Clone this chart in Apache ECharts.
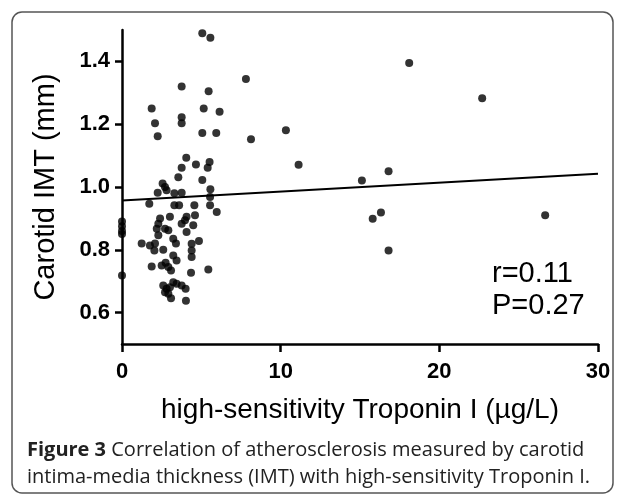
<!DOCTYPE html>
<html>
<head>
<meta charset="utf-8">
<script src="https://cdn.jsdelivr.net/npm/echarts@6/dist/echarts.min.js"></script>
<style>
  html, body { margin: 0; padding: 0; background: #fff; }
  #chart-container { width: 625px; height: 495px; }
</style>
</head>
<body>
<div id="chart-container"></div>
<script>
// hs-Troponin I (µg/L) and carotid IMT (mm), one entry per patient
const troponin = [
    5.06, 5.57, 3.76, 5.46, 1.87, 5.15, 6.15, 3.76, 3.76, 2.08,
    2.25, 5.06, 5.94, 4.05, 4.66, 5.52, 5.40, 3.76, 3.55, 5.06,
    2.56, 2.81, 2.25, 3.76, 5.57, 3.30, 5.55, 2.71,
    1.72, 3.30, 3.60, 4.56, 5.55, 5.97, 4.60, 4.07, 3.97, 3.76,
    3.02, 2.29, 2.19, 2.71, 2.92, 4.49, 4.07, 3.23, 2.29, 2.08,
    1.76, 1.24, 2.04, 4.39, 4.85, 4.39, 4.39, 3.23, 3.44, 1.87,
    2.50, 2.75, 2.92, 3.09, 4.35, 5.44, 2.60, 2.81, 3.02, 3.23,
    3.44, 3.76, 4.01, 2.71, 2.92, 3.09, 4.03, 2.40, 3.40, 2.60,
    0, 0, 0, 0, 0,
    7.81, 8.13, 10.33, 11.13, 15.12, 16.80, 16.32, 15.80, 16.80, 18.10,
    22.70, 26.67
];
const imt = [
    1.490, 1.475, 1.320, 1.305, 1.250, 1.250, 1.240, 1.222, 1.203, 1.203,
    1.162, 1.172, 1.172, 1.093, 1.072, 1.080, 1.061, 1.061, 1.031, 1.022,
    1.011, 0.990, 0.982, 0.982, 0.993, 0.980, 0.968, 1.000,
    0.947, 0.942, 0.942, 0.942, 0.942, 0.920, 0.910, 0.905, 0.894, 0.883,
    0.905, 0.883, 0.867, 0.867, 0.862, 0.878, 0.857, 0.835, 0.846, 0.820,
    0.814, 0.820, 0.798, 0.819, 0.828, 0.798, 0.777, 0.782, 0.766, 0.747,
    0.750, 0.759, 0.745, 0.734, 0.727, 0.737, 0.686, 0.676, 0.681, 0.697,
    0.692, 0.686, 0.676, 0.665, 0.660, 0.646, 0.638, 0.900, 0.820, 0.800,
    0.890, 0.875, 0.860, 0.850, 0.718,
    1.344, 1.152, 1.181, 1.071, 1.021, 1.050, 0.919, 0.899, 0.798, 1.395,
    1.283, 0.910
];

// linear regression line end points
const fitX = [0, 30];
const fitY = [0.957, 1.042];

const yTicks = [0.6, 0.8, 1.0, 1.2, 1.4];

const points = troponin.map((t, i) => [t, imt[i]]);
const fitLine = fitX.map((t, i) => [t, fitY[i]]);

const chart = echarts.init(document.getElementById('chart-container'));

chart.setOption({
    backgroundColor: '#fff',
    animation: false,
    grid: { left: 122, right: 27, top: 30, bottom: 151, containLabel: false },
    xAxis: {
        type: 'value',
        min: 0,
        max: 30,
        interval: 10,
        name: 'high-sensitivity Troponin I (\u00b5g/L)',
        nameLocation: 'middle',
        nameGap: 52,
        nameTextStyle: { fontFamily: 'Liberation Sans', fontSize: 28, color: '#000' },
        splitLine: { show: false },
        axisLine: { lineStyle: { color: '#000', width: 2.5 } },
        axisTick: { length: 8, lineStyle: { color: '#000', width: 2.5 } },
        axisLabel: {
            margin: 17,
            fontFamily: 'Liberation Sans',
            fontWeight: 'bold',
            fontSize: 22,
            color: '#000'
        }
    },
    yAxis: {
        type: 'value',
        min: 0.5,
        max: 1.5,
        name: 'Carotid IMT (mm)',
        nameLocation: 'middle',
        nameGap: 62,
        nameTextStyle: { fontFamily: 'Liberation Sans', fontSize: 29, color: '#000' },
        splitLine: { show: false },
        axisLine: { lineStyle: { color: '#000', width: 2.5 } },
        axisTick: { length: 7, customValues: yTicks, lineStyle: { color: '#000', width: 2.5 } },
        axisLabel: {
            margin: 12,
            customValues: yTicks,
            formatter: v => v.toFixed(1),
            fontFamily: 'Liberation Sans',
            fontWeight: 'bold',
            fontSize: 22,
            color: '#000'
        }
    },
    series: [
        {
            name: 'patients',
            type: 'scatter',
            symbol: 'circle',
            symbolSize: 8,
            itemStyle: { color: '#000' },
            data: points
        },
        {
            name: 'fit',
            type: 'line',
            showSymbol: false,
            lineStyle: { color: '#000', width: 2 },
            data: fitLine
        }
    ],
    graphic: [
        {
            type: 'rect',
            shape: { x: 12, y: 12, width: 601, height: 481, r: 10 },
            style: { fill: 'none', stroke: '#555', lineWidth: 1.5 },
            silent: true
        },
        {
            type: 'text',
            left: 492,
            top: 258,
            style: {
                text: 'r=0.11\nP=0.27',
                font: '29px "Liberation Sans"',
                lineHeight: 32,
                fill: '#000'
            }
        },
        {
            type: 'text',
            left: 27,
            top: 437,
            style: {
                text: '{b|Figure 3} Correlation of atherosclerosis measured by carotid\nintima-media thickness (IMT) with high-sensitivity Troponin I.',
                font: '20px "Open Sans"',
                lineHeight: 27,
                fill: '#222',
                rich: {
                    b: { font: 'bold 20px "Open Sans"', fill: '#222', lineHeight: 27 }
                }
            }
        }
    ]
});
</script>
</body>
</html>
